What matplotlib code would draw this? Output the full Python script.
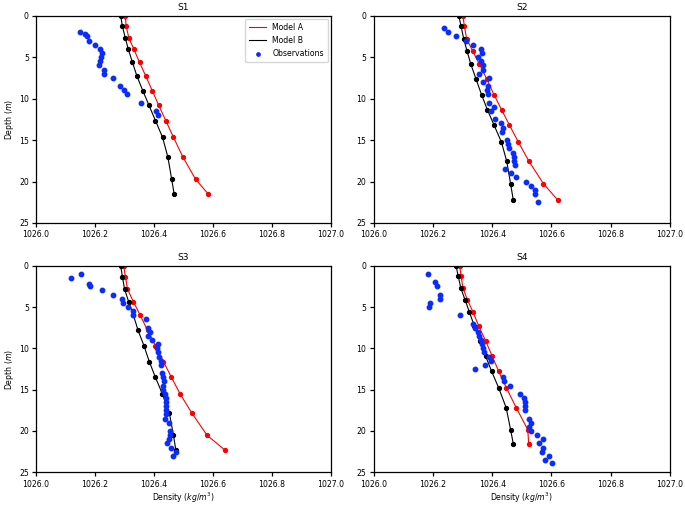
import matplotlib
matplotlib.use("Agg")
import matplotlib.pyplot as plt

titles = ["S1", "S2", "S3", "S4"]

# Model A (density, depth)
a_depth = [
    [0, 1.29, 2.73, 4.06, 5.63, 7.27, 9.04, 10.81, 12.66, 14.67, 17.04, 19.73, 21.46],
    [0, 1.29, 2.81, 4.26, 5.87, 7.60, 9.53, 11.37, 13.18, 15.23, 17.56, 20.26, 22.23],
    [0, 1.33, 2.82, 4.35, 5.97, 7.82, 9.68, 11.61, 13.43, 15.48, 17.82, 20.52, 22.30],
    [0, 1.25, 2.70, 4.11, 5.60, 7.34, 9.11, 10.97, 12.78, 14.80, 17.18, 19.84, 21.53],
]
a_dens = [
    [1026.302, 1026.306, 1026.315, 1026.332, 1026.351, 1026.372, 1026.394, 1026.416, 1026.440, 1026.466, 1026.498, 1026.541, 1026.583],
    [1026.301, 1026.306, 1026.314, 1026.334, 1026.357, 1026.381, 1026.406, 1026.432, 1026.458, 1026.488, 1026.524, 1026.573, 1026.621],
    [1026.297, 1026.303, 1026.310, 1026.330, 1026.353, 1026.378, 1026.405, 1026.432, 1026.458, 1026.488, 1026.528, 1026.580, 1026.640],
    [1026.290, 1026.295, 1026.301, 1026.316, 1026.335, 1026.355, 1026.378, 1026.400, 1026.422, 1026.448, 1026.481, 1026.520, 1026.523],
]

# Model B
b_depth = a_depth
b_dens = [
    [1026.287, 1026.293, 1026.303, 1026.313, 1026.327, 1026.342, 1026.362, 1026.383, 1026.405, 1026.429, 1026.447, 1026.460, 1026.468],
    [1026.287, 1026.295, 1026.304, 1026.315, 1026.328, 1026.345, 1026.364, 1026.384, 1026.406, 1026.431, 1026.449, 1026.462, 1026.471],
    [1026.287, 1026.293, 1026.300, 1026.314, 1026.330, 1026.346, 1026.366, 1026.384, 1026.404, 1026.428, 1026.452, 1026.466, 1026.474],
    [1026.278, 1026.285, 1026.294, 1026.308, 1026.323, 1026.340, 1026.358, 1026.378, 1026.398, 1026.422, 1026.447, 1026.462, 1026.471],
]

# Observations
obs_depth = [
    [2.0, 2.2, 2.5, 3.0, 3.5, 4.0, 4.5, 5.0, 5.5, 6.0, 6.5, 7.0, 7.5, 8.5, 9.0, 9.5, 10.5, 11.5, 12.0],
    [1.5, 2.0, 2.5, 3.0, 3.5, 4.0, 4.5, 5.0, 5.5, 6.0, 6.5, 7.0, 7.5, 8.0, 8.5, 9.0, 9.5, 10.5, 11.0, 11.5,
     12.5, 13.0, 13.5, 14.0, 15.0, 15.5, 16.0, 16.5, 17.0, 17.5, 18.0, 18.5, 19.0, 19.5, 20.0, 20.5, 21.0, 21.5, 22.5],
    [1.5, 1.0, 2.2, 2.4, 3.0, 3.5, 4.0, 4.5, 5.0, 5.5, 6.0, 6.5, 7.5, 8.0, 8.5, 9.0, 9.5, 10.0, 10.5, 11.0,
     11.5, 12.0, 13.0, 13.5, 14.0, 14.5, 15.0, 15.5, 16.0, 16.5, 17.0, 17.5, 18.0, 18.5, 19.0, 20.0, 20.5, 21.0,
     21.5, 22.0, 22.5, 23.0],
    [1.0, 2.0, 2.5, 3.5, 4.0, 4.5, 5.0, 6.0, 7.0, 7.5, 8.0, 8.5, 9.0, 9.5, 10.0, 10.5, 11.0, 11.5, 12.0, 12.5,
     13.5, 14.0, 14.5, 15.5, 16.0, 16.5, 17.0, 17.5, 18.5, 19.0, 19.5, 20.0, 20.5, 21.0, 21.5, 22.0, 22.5, 23.0,
     23.5, 23.9],
]
obs_dens = [
    [1026.149, 1026.165, 1026.172, 1026.179, 1026.201, 1026.216, 1026.225, 1026.220, 1026.217, 1026.215,
     1026.232, 1026.232, 1026.261, 1026.285, 1026.298, 1026.309, 1026.357, 1026.408, 1026.415],
    [1026.238, 1026.250, 1026.278, 1026.312, 1026.336, 1026.361, 1026.366, 1026.352, 1026.363, 1026.370,
     1026.368, 1026.357, 1026.388, 1026.368, 1026.385, 1026.381, 1026.386, 1026.388, 1026.405, 1026.395,
     1026.411, 1026.431, 1026.438, 1026.434, 1026.450, 1026.452, 1026.457, 1026.469, 1026.472, 1026.474,
     1026.477, 1026.444, 1026.462, 1026.479, 1026.515, 1026.531, 1026.546, 1026.544, 1026.555],
    [1026.119, 1026.151, 1026.181, 1026.184, 1026.225, 1026.260, 1026.292, 1026.294, 1026.311, 1026.329,
     1026.330, 1026.372, 1026.380, 1026.388, 1026.380, 1026.392, 1026.414, 1026.410, 1026.412, 1026.417,
     1026.424, 1026.423, 1026.426, 1026.432, 1026.435, 1026.431, 1026.431, 1026.436, 1026.439, 1026.439,
     1026.442, 1026.439, 1026.439, 1026.436, 1026.450, 1026.454, 1026.454, 1026.452, 1026.443, 1026.459,
     1026.474, 1026.464],
    [1026.184, 1026.206, 1026.213, 1026.224, 1026.224, 1026.191, 1026.186, 1026.292, 1026.335, 1026.342,
     1026.351, 1026.357, 1026.361, 1026.366, 1026.370, 1026.372, 1026.389, 1026.395, 1026.376, 1026.343,
     1026.438, 1026.441, 1026.459, 1026.493, 1026.508, 1026.509, 1026.512, 1026.509, 1026.523, 1026.531,
     1026.524, 1026.532, 1026.552, 1026.573, 1026.557, 1026.573, 1026.569, 1026.591, 1026.578, 1026.602],
]

x_ticks = [1026.0, 1026.2, 1026.4, 1026.6, 1026.8, 1027.0]
y_ticks = [0, 5, 10, 15, 20, 25]

fig = plt.figure(figsize=(6.85, 5.05), dpi=100)
W, H = 685, 505
boxes = [
    (36, 15.7, 331, 223),
    (373.7, 15.7, 670, 223),
    (36, 265.7, 331, 472.3),
    (373.7, 265.7, 670, 472.3),
]
fs = 5.6
for i in range(4):
    l, t, r, b = boxes[i]
    ax = fig.add_axes([l / W, 1 - b / H, (r - l) / W, (b - t) / H])
    ax.plot(a_dens[i], a_depth[i], color="red", lw=0.8, label="Model A")
    ax.plot(b_dens[i], b_depth[i], color="black", lw=0.8, label="Model B")
    ax.plot(a_dens[i], a_depth[i], 'o', color="red", ms=2.8, ls='none')
    ax.plot(b_dens[i], b_depth[i], 'o', color="black", ms=2.8, ls='none')
    ax.plot(obs_dens[i], obs_depth[i], 'o', color="#0a2cff", ms=3.2, ls='none', label="Observations")
    ax.set_xlim(1026.0, 1027.0)
    ax.set_ylim(25, 0)
    ax.set_xticks(x_ticks)
    ax.set_xticklabels([f"{v:.1f}" for v in x_ticks])
    ax.set_yticks(y_ticks)
    ax.tick_params(labelsize=fs, length=3.2, width=0.9, pad=2)
    for s in ax.spines.values():
        s.set_linewidth(0.9)
    ax.set_title(titles[i], fontsize=fs + 1.0, pad=4)
    if i % 2 == 0:
        ax.set_ylabel("Depth ($m$)", fontsize=fs, labelpad=2)
    if i >= 2:
        ax.set_xlabel("Density ($kg/m^3$)", fontsize=fs, labelpad=1.5)
    if i == 0:
        handles, labels = ax.get_legend_handles_labels()
        ax.legend(handles, labels, loc="upper right", fontsize=fs, markerscale=0.75,
                  handlelength=2.2, borderpad=0.5, labelspacing=0.55, frameon=True,
                  borderaxespad=0.4, fancybox=True)

fig.savefig("out.png", dpi=100)
